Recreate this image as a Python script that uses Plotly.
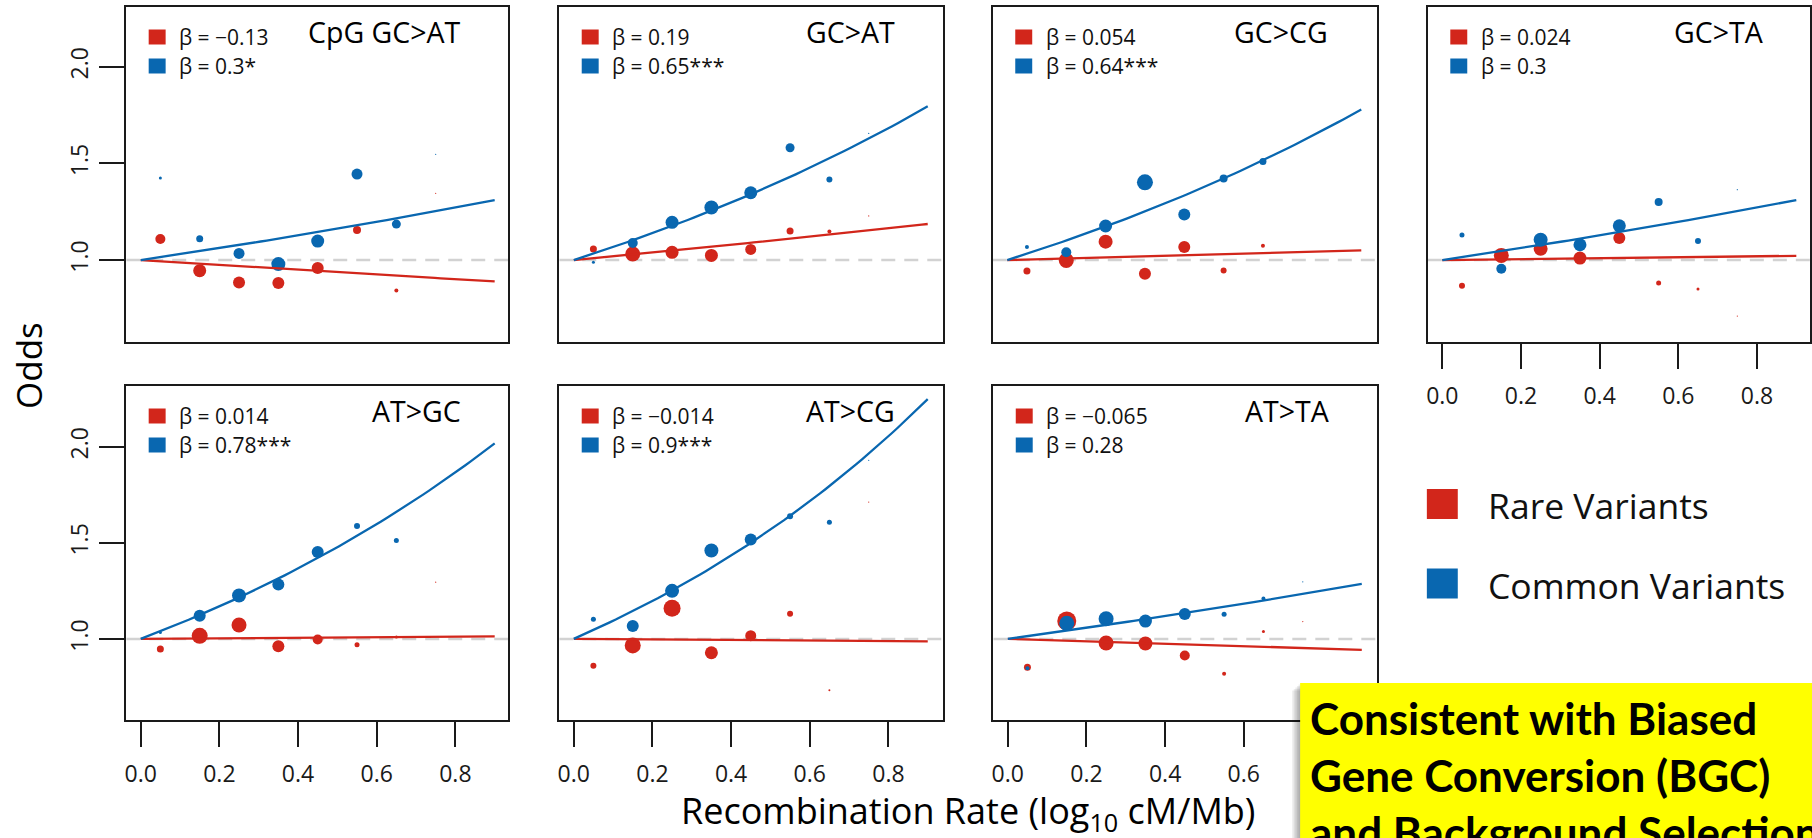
import numpy as np
import plotly.graph_objects as go

# ---------------- data ----------------
panel_names = ["CpG GC>AT", "GC>AT", "GC>CG", "GC>TA", "AT>GC", "AT>CG", "AT>TA"]
x_bins = [0.05, 0.15, 0.25, 0.35, 0.45, 0.55, 0.65, 0.75]

rare_beta = [-0.13, 0.19, 0.054, 0.024, 0.014, -0.014, -0.065]
common_beta = [0.3, 0.65, 0.64, 0.3, 0.78, 0.9, 0.28]
rare_beta_label = ["\u22120.13", "0.19", "0.054", "0.024", "0.014", "\u22120.014", "\u22120.065"]
common_beta_label = ["0.3*", "0.65***", "0.64***", "0.3", "0.78***", "0.9***", "0.28"]

rare_odds = [
    [1.109, 0.945, 0.884, 0.881, 0.959, 1.155, 0.843, 1.345],
    [1.057, 1.031, 1.040, 1.024, 1.055, 1.150, 1.148, 1.228],
    [0.943, 0.998, 1.095, 0.929, 1.067, 0.946, 1.074, None],
    [0.867, 1.024, 1.058, 1.010, 1.114, 0.881, 0.850, 0.710],
    [0.948, 1.016, 1.072, 0.962, 0.997, 0.969, 1.010, 1.295],
    [0.860, 0.966, 1.160, 0.928, 1.017, 1.131, 0.733, 1.712],
    [0.853, 1.093, 0.979, 0.976, 0.914, 0.819, 1.038, 1.090],
]
rare_size = [
    [10, 13, 12, 12, 12, 8, 4, 1.2],
    [7, 15, 13, 13, 11, 7, 4, 1.2],
    [7, 15, 14, 12, 12, 6, 4, 1.2],
    [6, 15, 14, 13, 12, 5, 3, 1.2],
    [7, 16, 15, 12, 10, 5, 3, 1.2],
    [6, 16, 17, 13, 11, 6, 2, 1.2],
    [7, 19, 15, 14, 10, 4, 3, 1.2],
]
common_odds = [
    [1.424, 1.110, 1.034, 0.979, 1.098, 1.445, 1.186, 1.547],
    [0.988, 1.088, 1.195, 1.272, 1.348, 1.581, 1.417, 1.655],
    [1.067, 1.040, 1.176, 1.402, 1.236, 1.422, 1.510, None],
    [1.129, 0.955, 1.105, 1.079, 1.177, 1.300, 1.098, 1.364],
    [1.033, 1.121, 1.226, 1.283, 1.452, 1.588, 1.512, None],
    [1.102, 1.067, 1.250, 1.460, 1.517, 1.638, 1.607, 1.929],
    [0.847, 1.081, 1.105, 1.093, 1.129, 1.128, 1.210, 1.297],
]
common_size = [
    [3, 7, 11, 14, 13, 11, 9, 1.2],
    [3, 10, 13, 14, 13, 9, 6, 1.2],
    [4, 10, 13, 16, 12, 8, 7, 1.2],
    [5, 10, 14, 13, 13, 8, 6, 1.2],
    [3, 12, 14, 12, 12, 6, 5, 1.2],
    [5, 12, 14, 14, 12, 6, 5, 1.2],
    [4, 15, 15, 13, 12, 5, 4, 1.2],
]
x_ticks = [0.0, 0.2, 0.4, 0.6, 0.8]
y_ticks = [1.0, 1.5, 2.0]
legend_labels = ["Rare Variants", "Common Variants"]
note_lines = ["Consistent with Biased", "Gene Conversion (BGC)", "and Background Selection"]

# ---------------- styles / layout ----------------
RED = "#D2261B"
BLUE = "#0967B0"
INK = "#1a1a1a"
FONT = "Open Sans"
W, H = 1812, 838


def px(x):
    return x / W


def py(y):
    return 1 - y / H


# panel boxes in pixels (left, top, right, bottom)
boxes = [
    (124.5, 7, 507.5, 342), (558.5, 7, 943.5, 342), (993, 7, 1378, 342), (1429, 7, 1812, 342),
    (124.5, 386, 507.5, 720), (558.5, 386, 943.5, 720), (993.5, 386, 1378, 720),
]
PX_PER_UNIT = 394.2
ZERO_OFF = 14.5
has_xticks = [False, False, False, True, True, True, True]
has_yticks = [True, False, False, False, True, False, False]

fig = go.Figure()
fit_x = np.linspace(0, 0.9, 60)

for i in range(7):
    sfx = "" if i == 0 else str(i + 1)
    xa, ya = "x" + sfx, "y" + sfx
    l, t, r, b = boxes[i]
    xr = [-ZERO_OFF / PX_PER_UNIT, (r - l - ZERO_OFF) / PX_PER_UNIT]
    yr = [0.576, 2.309] if t < 100 else [0.578, 2.316]

    fig.add_trace(go.Scatter(x=xr, y=[1, 1], mode="lines", xaxis=xa, yaxis=ya,
                             line=dict(color="#d2d2d2", width=2.5, dash="14px,9px"),
                             hoverinfo="skip"))
    fig.add_trace(go.Scatter(x=x_bins, y=rare_odds[i], mode="markers", xaxis=xa, yaxis=ya,
                             marker=dict(size=rare_size[i], color=RED, opacity=1,
                                         line=dict(width=0))))
    fig.add_trace(go.Scatter(x=x_bins, y=common_odds[i], mode="markers", xaxis=xa, yaxis=ya,
                             marker=dict(size=common_size[i], color=BLUE, opacity=1,
                                         line=dict(width=0))))
    fig.add_trace(go.Scatter(x=fit_x, y=np.exp(rare_beta[i] * fit_x), mode="lines",
                             xaxis=xa, yaxis=ya, line=dict(color=RED, width=2.3)))
    fig.add_trace(go.Scatter(x=fit_x, y=np.exp(common_beta[i] * fit_x), mode="lines",
                             xaxis=xa, yaxis=ya, line=dict(color=BLUE, width=2.3)))

    xaxis = dict(domain=[px(l), min(px(r), 1.0)], range=xr, anchor=ya,
                 showline=True, mirror=True, linecolor=INK, linewidth=2,
                 showgrid=False, zeroline=False, fixedrange=True)
    if has_xticks[i]:
        xaxis.update(ticks="outside", ticklen=25, tickwidth=2, tickcolor=INK,
                     tickvals=x_ticks, ticktext=[f"{v:.1f}" for v in x_ticks],
                     tickfont=dict(family=FONT, size=23, color=INK), ticklabelstandoff=7)
    else:
        xaxis.update(ticks="", showticklabels=False)
    yaxis = dict(domain=[py(b), py(t)], range=yr, anchor=xa,
                 showline=True, mirror=True, linecolor=INK, linewidth=2,
                 showgrid=False, zeroline=False, fixedrange=True)
    if has_yticks[i]:
        yaxis.update(ticks="outside", ticklen=25, tickwidth=2, tickcolor=INK,
                     tickvals=y_ticks, ticktext=[f"{v:.1f}" for v in y_ticks],
                     tickangle=-90,
                     tickfont=dict(family=FONT, size=23, color=INK), ticklabelstandoff=2)
    else:
        yaxis.update(ticks="", showticklabels=False)
    fig.layout["xaxis" + sfx] = xaxis
    fig.layout["yaxis" + sfx] = yaxis

    # panel title
    fig.add_annotation(x=px(l + 338), y=py(t + 25), xref="paper", yref="paper",
                       text=panel_names[i], showarrow=False, xanchor="right", yanchor="middle",
                       font=dict(family=FONT, size=28.5, color="black"))
    # in-panel beta legend
    for k, (col, lab) in enumerate([(RED, rare_beta_label[i]), (BLUE, common_beta_label[i])]):
        cy = t + 30 + 29 * k
        fig.add_shape(type="rect", xref="paper", yref="paper",
                      x0=px(l + 22.5), x1=px(l + 39.5), y0=py(cy + 7.5), y1=py(cy - 7.5),
                      fillcolor=col, line=dict(width=0))
        fig.add_annotation(x=px(l + 51), y=py(cy), xref="paper", yref="paper",
                           text="\u03b2 = " + lab, showarrow=False, xanchor="left",
                           yanchor="middle", font=dict(family=FONT, size=21, color="#111"))

# global axis titles
fig.add_annotation(x=px(26), y=py(365), xref="paper", yref="paper", text="Odds",
                   textangle=-90, showarrow=False, xanchor="center", yanchor="middle",
                   font=dict(family=FONT, size=35, color="black"))
fig.add_annotation(x=px(968), y=py(812), xref="paper", yref="paper",
                   text="Recombination Rate (log<sub>10</sub> cM/Mb)", showarrow=False,
                   xanchor="center", yanchor="middle",
                   font=dict(family=FONT, size=36, color="black"))

# right-side legend
for k, (col, lab) in enumerate([(RED, legend_labels[0]), (BLUE, legend_labels[1])]):
    cy = 504 + 79.5 * k
    fig.add_shape(type="rect", xref="paper", yref="paper",
                  x0=px(1428), x1=px(1459), y0=py(cy + 15), y1=py(cy - 15),
                  fillcolor=col, line=dict(width=0))
    fig.add_annotation(x=px(1487), y=py(cy + 1), xref="paper", yref="paper", text=lab,
                       showarrow=False, xanchor="left", yanchor="middle",
                       font=dict(family=FONT, size=35.5, color="#111"))

# yellow callout box with soft shadow
for k in range(1, 6):
    fig.add_shape(type="rect", xref="paper", yref="paper",
                  x0=px(1301 - 1.6 * k), x1=px(1830), y0=py(860), y1=py(683 + 1.5 * k),
                  fillcolor="rgba(0,0,0,0.07)", line=dict(width=0))
fig.add_shape(type="rect", xref="paper", yref="paper",
              x0=px(1301), x1=px(1830), y0=py(860), y1=py(683),
              fillcolor="#FFFF00", line=dict(width=0))
for k, line in enumerate(note_lines):
    fig.add_annotation(x=px(1309), y=py(718 + 57 * k), xref="paper", yref="paper",
                       text="<b>" + line + "</b>", showarrow=False, xanchor="left",
                       yanchor="middle", font=dict(family="Lato", size=44, color="black"))

fig.update_layout(width=W, height=H, margin=dict(l=0, r=0, t=0, b=0),
                  paper_bgcolor="white", plot_bgcolor="white", showlegend=False,
                  font=dict(family=FONT))
fig.write_html("out.html",
               config={"displayModeBar": False, "staticPlot": True},
               post_script="document.body.style.margin='0px';"
                           "document.body.style.overflow='hidden';")
